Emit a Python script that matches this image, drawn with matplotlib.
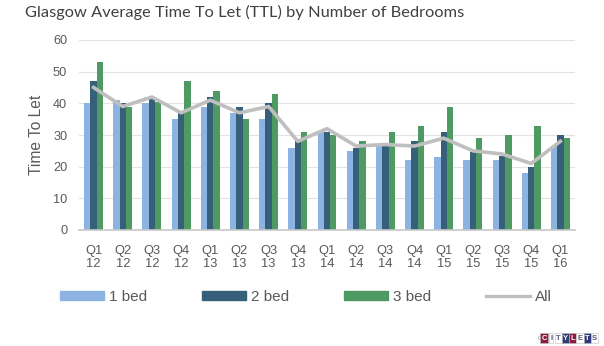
import matplotlib.pyplot as plt
import numpy as np
from matplotlib.patches import Patch
from matplotlib.lines import Line2D

# Data
quarters = ["Q1\n12", "Q2\n12", "Q3\n12", "Q4\n12", "Q1\n13", "Q2\n13", "Q3\n13", "Q4\n13",
            "Q1\n14", "Q2\n14", "Q3\n14", "Q4\n14", "Q1\n15", "Q2\n15", "Q3\n15", "Q4\n15", "Q1\n16"]
bed1 = [40, 41, 40, 35, 39, 37, 35, 26, 31, 25, 26.5, 22, 23, 22, 22, 18, 26.5]
bed2 = [47, 40, 41.5, 37, 42, 39, 40, 28, 31, 26, 26.5, 28, 31, 24.5, 23.5, 20, 30]
bed3 = [53, 39, 40.5, 47, 44, 35, 43, 31, 30, 28, 31, 33, 39, 29, 30, 33, 29]
all_ttl = [45, 39, 42, 37, 41, 37, 39, 28, 32, 26.5, 27, 26.5, 29, 25, 24, 21, 28]

c1 = '#8DB3E2'
c2 = '#366079'
c3 = '#4F9A62'
c_all = '#BFBFBF'
txt = '#595959'

plt.rcParams['font.family'] = ['Liberation Sans', 'DejaVu Sans']

fig = plt.figure(figsize=(6.04, 3.46), dpi=100)
ax = fig.add_axes([79 / 604, 1 - 230 / 346, 496 / 604, 190 / 346])

x = np.arange(len(quarters))
w = 0.217
ax.bar(x - w, bed1, w, color=c1, zorder=2)
ax.bar(x, bed2, w, color=c2, zorder=2)
ax.bar(x + w, bed3, w, color=c3, zorder=2)
ax.plot(x, all_ttl, color=c_all, lw=2.6, zorder=3, solid_joinstyle='round')

ax.set_xlim(-0.5, len(quarters) - 0.5)
ax.set_ylim(0, 60)
ax.set_yticks(range(0, 61, 10))
ax.set_xticks(x)
ax.set_xticklabels(quarters, fontsize=9.3, color=txt, linespacing=1.15)
ax.tick_params(axis='y', length=0, pad=8.5, labelsize=9.2, labelcolor=txt)
ax.tick_params(axis='x', length=0, pad=10.5)
ax.grid(axis='y', color='#E3E3E3', lw=0.8, zorder=0)
for s in ['top', 'right', 'left']:
    ax.spines[s].set_visible(False)
ax.spines['bottom'].set_color('#C8C8C8')
ax.spines['bottom'].set_linewidth(1.2)

ax.set_ylabel("Time To Let", fontsize=11.2, color=txt)
ax.yaxis.set_label_coords(-0.07, 0.5)

fig.text(25 / 604, 1 - 12 / 346, "Glasgow Average Time To Let (TTL) by Number of Bedrooms",
         fontsize=11.8, color='#404040', family=['Lato', 'DejaVu Sans'], va='center', ha='left')

handles = [Patch(color=c1), Patch(color=c2), Patch(color=c3),
           Line2D([0], [0], color=c_all, lw=2.4)]
fig.legend(handles, ["1 bed", "2 bed", "3 bed", "All"], ncol=4, frameon=False,
           loc='center left', bbox_to_anchor=(60 / 604, 1 - 297 / 346),
           fontsize=11, labelcolor=txt, handlelength=2.85, handleheight=0.45,
           handletextpad=0.35, columnspacing=3.6, borderpad=0, borderaxespad=0)

# small logo bottom-right
fig.text(538 / 604, 1 - 338 / 346, "c", fontsize=5, color='#999999', va='center', ha='left')
letters = "CITYLETS"
bg = ['#8B1E3F', '#FFFFFF', '#FFFFFF', '#2E3A78', '#8B1E3F', '#FFFFFF', '#2E3A78', '#FFFFFF']
for i, (ch, b) in enumerate(zip(letters, bg)):
    fc = 'white' if b != '#FFFFFF' else '#555577'
    fig.text((544 + i * 7.2) / 604, 1 - 338 / 346, ch, fontsize=5.5, color=fc, va='center',
             ha='center', fontweight='bold',
             bbox=dict(boxstyle='square,pad=0.15', fc=b, ec='#BBBBBB', lw=0.4))

fig.savefig('out.png', dpi=100)
